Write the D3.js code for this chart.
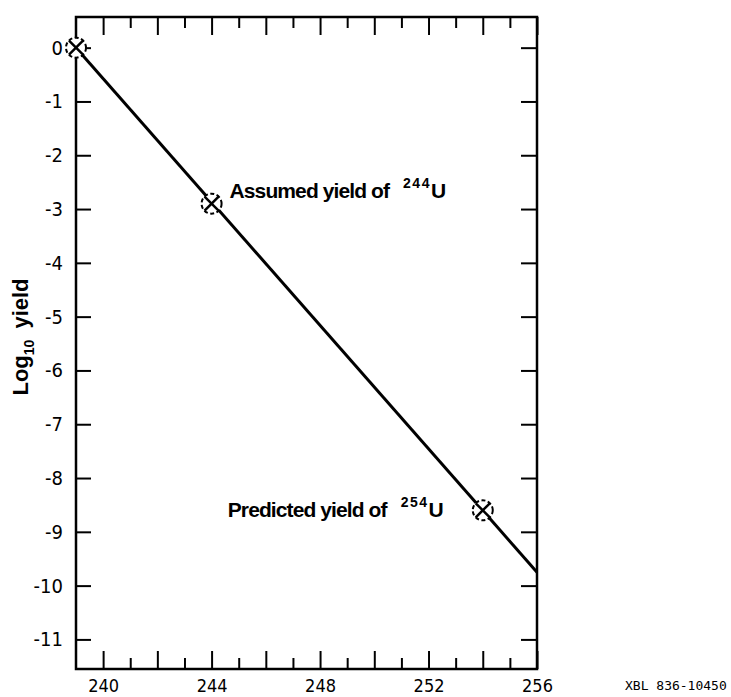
<!DOCTYPE html>
<html>
  <head>
    <title>Log yield vs mass number</title>
    <script src="https://d3js.org/d3.v7.min.js"></script>
    <style>
      body { margin: 0; background: #fff; }
      .axis .domain { display: none; }
      .axis .tick line { stroke: #000; stroke-width: 2px; }
      .axis .tick text {
        font-family: "DejaVu Sans Condensed", "DejaVu Sans", sans-serif;
        font-stretch: condensed;
        font-size: 20px;
        fill: #000;
      }
      .axis--x .tick text { font-size: 18px; }
      .frame { fill: none; stroke: #000; stroke-width: 2.5px; }
      .fit-line { fill: none; stroke: #000; stroke-width: 3px; }
      .marker circle { fill: none; stroke: #000; stroke-width: 2px; stroke-dasharray: 4 2.5; }
      .marker line { stroke: #000; stroke-width: 2.5px; }
      .note {
        font-family: "Liberation Sans", Arial, sans-serif;
        font-weight: bold;
        font-size: 21px;
        letter-spacing: -0.9px;
        fill: #000;
      }
      .note .iso { font-size: 14px; letter-spacing: 1.5px; }
      .code {
        font-family: "DejaVu Sans Mono", monospace;
        font-size: 13px;
        fill: #000;
      }
    </style>
  </head>
  <body>
    <svg width="731" height="697"></svg>
    <script>
      // values
      const lineMass = [239, 256];
      const lineLogYield = [0, -9.75];
      const markerMass = [239, 244, 254];
      const markerLogYield = [0, -2.9, -8.6];
      const xMinorTicks = [241, 243, 245, 247, 249, 251, 253, 255];
      const xMajorTicks = [240, 242, 244, 246, 248, 250, 252, 254, 256];
      const xTickLabels = [240, 244, 248, 252, 256];
      const yTicks = [0, -1, -2, -3, -4, -5, -6, -7, -8, -9, -10, -11];
      const notes = [
        {text: "Assumed yield of", iso: "244", el: "U", mass: 244, logYield: -2.9},
        {text: "Predicted yield of", iso: "254", el: "U", mass: 254, logYield: -8.6}
      ];

      const svg = d3.select("svg");
      const plot = {left: 76, right: 537, top: 17, bottom: 669};

      const xScale = d3.scaleLinear().domain([239, 256]).range([plot.left, plot.right]);
      const yScale = d3.scaleLinear().domain([-11.55, 0.57]).range([plot.bottom, plot.top]);

      // bottom + top ticks, pointing inward
      svg.append("g").attr("class", "axis")
        .attr("transform", `translate(0, ${plot.bottom})`)
        .call(d3.axisBottom(xScale).tickValues(xMinorTicks).tickSizeInner(-11).tickFormat(""));
      svg.append("g").attr("class", "axis axis--x")
        .attr("transform", `translate(0, ${plot.bottom})`)
        .call(d3.axisBottom(xScale).tickValues(xMajorTicks).tickSizeInner(-18).tickPadding(10)
          .tickFormat(d => xTickLabels.includes(d) ? d : ""));
      svg.append("g").attr("class", "axis")
        .attr("transform", `translate(0, ${plot.top})`)
        .call(d3.axisTop(xScale).tickValues(xMinorTicks).tickSizeInner(-11).tickFormat(""));
      svg.append("g").attr("class", "axis")
        .attr("transform", `translate(0, ${plot.top})`)
        .call(d3.axisTop(xScale).tickValues(xMajorTicks).tickSizeInner(-18).tickFormat(""));

      // left + right ticks
      svg.append("g").attr("class", "axis")
        .attr("transform", `translate(${plot.left}, 0)`)
        .call(d3.axisLeft(yScale).tickValues(yTicks).tickSizeInner(-15).tickPadding(13)
          .tickFormat(d => d));
      svg.append("g").attr("class", "axis")
        .attr("transform", `translate(${plot.right}, 0)`)
        .call(d3.axisRight(yScale).tickValues(yTicks).tickSizeInner(-16).tickFormat(""));

      svg.append("rect").attr("class", "frame")
        .attr("x", plot.left).attr("y", plot.top)
        .attr("width", plot.right - plot.left).attr("height", plot.bottom - plot.top);

      const line = d3.line().x(d => xScale(d[0])).y(d => yScale(d[1]));
      svg.append("path").attr("class", "fit-line")
        .attr("d", line(d3.zip(lineMass, lineLogYield)));

      const markers = svg.selectAll(".marker").data(d3.zip(markerMass, markerLogYield))
        .enter().append("g").attr("class", "marker")
          .attr("transform", d => `translate(${xScale(d[0])}, ${yScale(d[1])})`);
      markers.append("circle").attr("r", 10).style("fill", "#fff");
      markers.append("line").attr("x1", -7).attr("y1", -7).attr("x2", 7).attr("y2", 7);
      markers.append("line").attr("x1", -7).attr("y1", 7).attr("x2", 7).attr("y2", -7);

      // annotations
      const noteText = (sel, d) => {
        sel.append("tspan").text(d.text);
        sel.append("tspan").attr("class", "iso").attr("dx", 14).attr("dy", -10).text(d.iso);
        sel.append("tspan").attr("dy", 10).attr("dx", 0).text(d.el);
      };
      svg.append("text").attr("class", "note")
        .attr("x", xScale(notes[0].mass) + 18).attr("y", yScale(notes[0].logYield) - 6)
        .call(noteText, notes[0]);
      svg.append("text").attr("class", "note")
        .attr("x", xScale(notes[1].mass) - 40).attr("y", yScale(notes[1].logYield) + 7)
        .attr("text-anchor", "end")
        .call(noteText, notes[1]);

      // y axis title
      const yTitle = svg.append("text").attr("class", "note")
        .style("font-size", "22px")
        .style("letter-spacing", "0px")
        .attr("transform", "translate(28, 337) rotate(-90)")
        .attr("text-anchor", "middle");
      yTitle.append("tspan").text("Log");
      yTitle.append("tspan").attr("dy", 6).style("font-size", "14px").text("10");
      yTitle.append("tspan").attr("dy", -6).text("\u2002yield");

      svg.append("text").attr("class", "code")
        .attr("x", 625).attr("y", 690)
        .text("XBL 836-10450");
    </script>
  </body>
</html>
